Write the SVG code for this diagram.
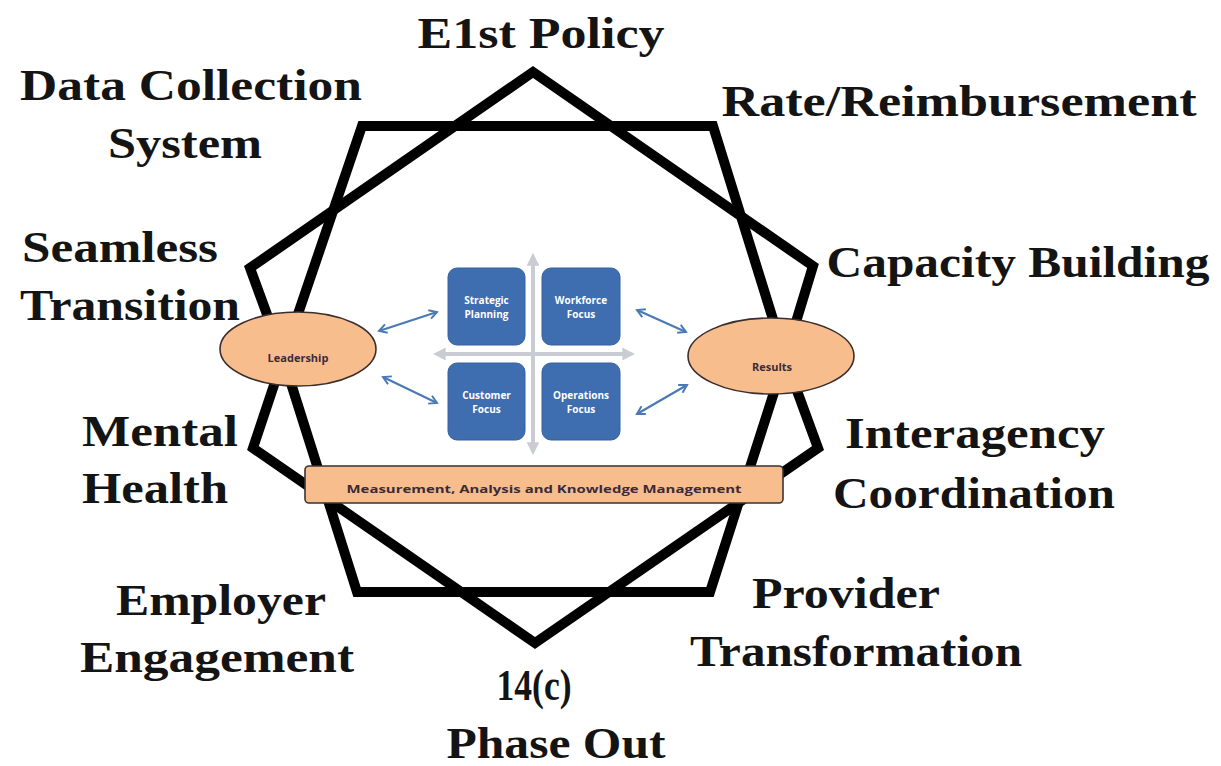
<svg xmlns="http://www.w3.org/2000/svg" width="1221" height="766" viewBox="0 0 1221 766">
<defs>
<style>
.lbl{font-family:"Liberation Serif","Times New Roman",serif;font-weight:bold;font-size:44px;fill:#141414;text-anchor:middle}
.frame{fill:none;stroke:#000;stroke-width:10;stroke-linejoin:miter}
.box{fill:#3e6db0;stroke:#36619e;stroke-width:1}
.btxt{font-family:"Open Sans","Liberation Sans",sans-serif;font-weight:bold;font-size:10px;fill:#fff;text-anchor:middle}
.oval{fill:#f8bd8c;stroke:#3a2e2e;stroke-width:1.6}
.otxt{font-family:"Open Sans","Liberation Sans",sans-serif;font-weight:bold;font-size:11px;fill:#3a2a3a;text-anchor:middle}
.cross{stroke:#c9ccd3;stroke-width:4;fill:none}
.barrow{stroke:#4a7ab4;stroke-width:2.2;fill:none;marker-start:url(#bh);marker-end:url(#bh)}
</style>
<marker id="bh" viewBox="0 0 10 10" refX="8" refY="5" markerWidth="5" markerHeight="5" orient="auto-start-reverse" markerUnits="strokeWidth">
<path d="M1,1 L8,5 L1,9" fill="none" stroke="#4a7ab4" stroke-width="1.8"/>
</marker>
<marker id="gh" viewBox="0 0 10 10" refX="6" refY="5" markerWidth="3.2" markerHeight="3.2" orient="auto-start-reverse" markerUnits="strokeWidth">
<path d="M0,0 L10,5 L0,10 Z" fill="#c9ccd3"/>
</marker>
</defs>
<rect width="1221" height="766" fill="#fff"/>

<g id="frames">
<polygon class="frame" points="362,126 713,126 785,358 710,592 357,592 283,358"/>
<polygon class="frame" points="533,72 813,266 785,358 818,448 535,643 253,448 283,358 250,268"/>
</g>

<g id="labels">
<text class="lbl" x="541" y="48" textLength="247" lengthAdjust="spacingAndGlyphs">E1st Policy</text>
<text class="lbl" x="191" y="100" textLength="342" lengthAdjust="spacingAndGlyphs">Data Collection</text>
<text class="lbl" x="185" y="158" textLength="154" lengthAdjust="spacingAndGlyphs">System</text>
<text class="lbl" x="959" y="116" textLength="475" lengthAdjust="spacingAndGlyphs">Rate/Reimbursement</text>
<text class="lbl" x="1018" y="277" textLength="383" lengthAdjust="spacingAndGlyphs">Capacity Building</text>
<text class="lbl" x="120" y="262" textLength="196" lengthAdjust="spacingAndGlyphs">Seamless</text>
<text class="lbl" x="130" y="320" textLength="220" lengthAdjust="spacingAndGlyphs">Transition</text>
<text class="lbl" x="160" y="446" textLength="156" lengthAdjust="spacingAndGlyphs">Mental</text>
<text class="lbl" x="155" y="503" textLength="146" lengthAdjust="spacingAndGlyphs">Health</text>
<text class="lbl" x="975" y="448" textLength="260" lengthAdjust="spacingAndGlyphs">Interagency</text>
<text class="lbl" x="974" y="508" textLength="282" lengthAdjust="spacingAndGlyphs">Coordination</text>
<text class="lbl" x="221" y="615" textLength="210" lengthAdjust="spacingAndGlyphs">Employer</text>
<text class="lbl" x="217" y="672" textLength="274" lengthAdjust="spacingAndGlyphs">Engagement</text>
<text class="lbl" x="846" y="608" textLength="188" lengthAdjust="spacingAndGlyphs">Provider</text>
<text class="lbl" x="856" y="666" textLength="332" lengthAdjust="spacingAndGlyphs">Transformation</text>
<text class="lbl" x="534" y="700" textLength="75" lengthAdjust="spacingAndGlyphs">14(c)</text>
<text class="lbl" x="556" y="758" textLength="219" lengthAdjust="spacingAndGlyphs">Phase Out</text>
</g>

<g id="connectors">
<line class="cross" x1="533" y1="258" x2="533" y2="450" marker-start="url(#gh)" marker-end="url(#gh)"/>
<line class="cross" x1="438" y1="354" x2="630" y2="354" marker-start="url(#gh)" marker-end="url(#gh)"/>
<line class="barrow" x1="379" y1="331" x2="437" y2="312"/>
<line class="barrow" x1="383" y1="377" x2="437" y2="403"/>
<line class="barrow" x1="637" y1="310" x2="686" y2="332"/>
<line class="barrow" x1="637" y1="414" x2="687" y2="385"/>
</g>

<g id="strategic">
<rect class="box" x="448" y="268" width="77" height="77" rx="9"/>
<text class="btxt" x="486.5" y="304">Strategic</text>
<text class="btxt" x="486.5" y="318">Planning</text>
</g>
<g id="workforce">
<rect class="box" x="542" y="268" width="78" height="77" rx="9"/>
<text class="btxt" x="581" y="304">Workforce</text>
<text class="btxt" x="581" y="318">Focus</text>
</g>
<g id="customer">
<rect class="box" x="448" y="363" width="77" height="77" rx="9"/>
<text class="btxt" x="486.5" y="399">Customer</text>
<text class="btxt" x="486.5" y="413">Focus</text>
</g>
<g id="operations">
<rect class="box" x="542" y="363" width="78" height="77" rx="9"/>
<text class="btxt" x="581" y="399">Operations</text>
<text class="btxt" x="581" y="413">Focus</text>
</g>

<g id="leadership">
<ellipse class="oval" cx="298" cy="349" rx="78" ry="37"/>
<text class="otxt" x="298" y="362">Leadership</text>
</g>
<g id="results">
<ellipse class="oval" cx="771" cy="356" rx="83" ry="38"/>
<text class="otxt" x="772" y="371">Results</text>
</g>
<g id="measurement">
<rect x="305" y="466" width="478" height="37" rx="4" fill="#f8bd8c" stroke="#3a3333" stroke-width="1.6"/>
<text class="otxt" x="544" y="493" font-size="13" textLength="395" lengthAdjust="spacingAndGlyphs">Measurement, Analysis and Knowledge Management</text>
</g>
</svg>
